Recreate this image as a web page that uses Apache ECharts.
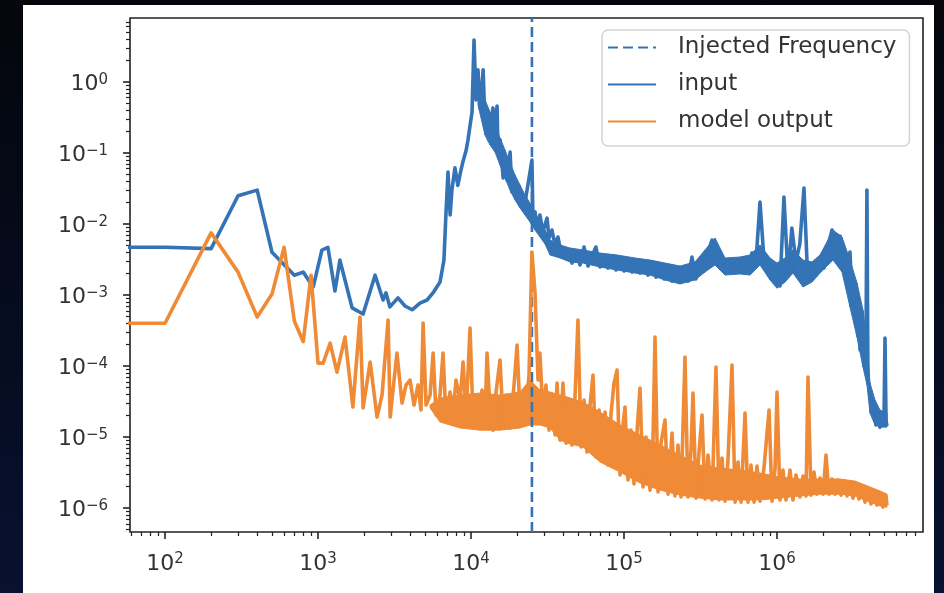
<!DOCTYPE html>
<html lang="en">
<head>
<meta charset="UTF-8">
<title>Spectrum: input vs model output</title>
<script src="https://cdn.jsdelivr.net/npm/echarts@6.0.0/dist/echarts.min.js"></script>
<style>
  html, body { margin: 0; padding: 0; }
  body { width: 944px; height: 593px; overflow: hidden; position: relative;
         background: linear-gradient(#04060b, #071130); }
  #panel { position: absolute; left: 23px; top: 5px; width: 911px; height: 588px; background: #fff; }
  #main { position: absolute; left: 0; top: 0; width: 944px; height: 593px; }
</style>
</head>
<body>
<div id="panel"></div>
<div id="main"></div>
<script>
// values: [frequency Hz, amplitude]
const injectedFreq = 25000;
const xTickExp = [2, 3, 4, 5, 6];
const yTickExp = [-6, -5, -4, -3, -2, -1, 0];
const xRange = [59, 9.0e6];
const yRange = [4.6e-7, 7.96];

const inputPoints = [
  [30,4.7e-3],[100,4.7e-3],[200,4.5e-3],[300,2.5e-2],[400,3.0e-2],[500,4.0e-3],[700,1.9e-3],[800,2.1e-3],
  [930,1.3e-3],[1060,4.3e-3],[1160,4.7e-3],[1290,1.14e-3],[1390,3.1e-3],[1500,1.63e-3],[1670,6.6e-4],
  [1970,5.4e-4],[2360,1.9e-3],[2660,8.5e-4],[2780,1.07e-3],[2950,6.8e-4],[3330,9.1e-4],[3700,7.0e-4],
  [4120,6.2e-4],[4640,7.7e-4],[5160,8.5e-4],[5640,1.07e-3],[6270,1.52e-3],[6650,3.1e-3],[6850,1.34e-2],
  [7070,5.4e-2],[7300,1.34e-2],[7500,3.0e-2],[7850,6.2e-2],[8200,3.5e-2],[8600,5.8e-2],[8850,7.5e-2],
  [9300,0.11],[9550,0.152],[9800,0.225],[10150,0.378],[10460,3.9],[10780,0.558],[11100,1.48],[11450,0.431],
  [11800,0.906],[12000,1.48],[12350,0.225],[12700,0.311],[13100,0.152],[13500,0.248],[13900,0.431],
  [14350,0.211],[14800,0.459],[15000,0.103],[15500,0.152],[15900,0.0796],[16200,0.0445],[16700,0.0796],
  [17200,0.0417],[17700,0.0677],[18000,0.103],[18500,0.0282],[19100,0.0417],[19700,0.0232],[20300,0.0321],
  [20900,0.0198],[21500,0.0256],[22200,0.0157],[22900,0.0248],[24000,0.0459],[25000,0.0796],[25400,0.0121],
  [26200,0.0148],[27000,0.00877],[28200,0.0134],[29500,0.00771],[30400,0.00967],[31400,0.0121],
  [32300,0.00635],[33800,0.00822],[35400,0.00506],[37000,0.00656],[38700,0.00403],
  [40500,3.43e-3],[43100,4.31e-3],[45700,2.82e-3],[48500,3.78e-3],[51600,2.65e-3],[54800,4.74e-3],
  [58200,2.56e-3],[61800,3.54e-3],[65500,4.74e-3],[69600,2.48e-3],[74000,3.43e-3],[78600,2.40e-3],
  [83500,3.32e-3],[88500,2.25e-3],[94200,3.11e-3],[1.0e5,2.18e-3],[1.06e5,3.01e-3],[1.13e5,2.11e-3],
  [1.20e5,2.92e-3],[1.27e5,2.04e-3],[1.35e5,2.82e-3],[1.435e5,1.91e-3],[1.52e5,2.65e-3],[1.62e5,1.79e-3],
  [1.72e5,2.48e-3],[1.83e5,1.68e-3],[1.94e5,2.32e-3],[2.06e5,1.57e-3],[2.19e5,2.18e-3],[2.32e5,1.52e-3],
  [2.47e5,2.11e-3],[2.62e5,1.57e-3],[2.78e5,3.43e-3],[2.95e5,1.68e-3],[3.14e5,2.56e-3],[3.33e5,2.18e-3],
  [3.54e5,4.03e-3],[3.76e5,5.95e-3],[4.0e5,3.66e-3],[4.24e5,3.43e-3],[4.5e5,2.18e-3],[4.78e5,2.92e-3],
  [5.08e5,2.11e-3],[5.39e5,3.01e-3],[5.73e5,2.25e-3],[6.08e5,3.32e-3],[6.46e5,2.48e-3],[6.86e5,3.90e-3],
  [7.29e5,3.01e-3],[7.74e5,2.04e-2],[8.21e5,3.32e-3],[8.72e5,3.11e-3],[9.26e5,1.74e-3],[9.8e5,2.04e-3],
  [1.046e6,1.34e-3],[1.11e6,2.40e-2],[1.18e6,1.85e-3],[1.25e6,8.77e-3],[1.33e6,2.92e-3],[1.41e6,5.23e-3],
  [1.50e6,3.21e-2],[1.59e6,1.57e-3],[1.69e6,2.56e-3],[1.80e6,1.91e-3],[1.91e6,3.11e-3],[2.03e6,2.40e-3],
  [2.15e6,4.90e-3],[2.29e6,8.22e-3],[2.43e6,3.66e-3],[2.58e6,6.77e-3],[2.74e6,4.31e-3],[2.91e6,2.92e-3],
  [3.0e6,4.03e-3],[3.09e6,9.06e-4],[3.18e6,1.38e-3],[3.28e6,3.78e-4],[3.38e6,8.49e-4],[3.49e6,1.68e-4],
  [3.59e6,4.74e-4],[3.70e6,1.21e-4],[3.82e6,2.73e-4],[3.87e6,3.0e-2],[3.93e6,6.77e-5],[4.05e6,3.90e-5],
  [4.17e6,2.25e-5],[4.31e6,2.82e-5],[4.43e6,1.48e-5],[4.57e6,2.04e-5],[4.71e6,1.38e-5],[4.85e6,1.91e-5],
  [5.0e6,1.48e-5],[5.08e6,2.48e-4],[5.16e6,1.74e-5],[5.23e6,1.43e-5]
];

// dense noise floor of the input: [frequency, upper edge, lower edge]
const inputBand = [
  [1.111e4,1.07,0.474],[1.234e4,0.558,0.179],[1.331e4,0.378,0.130],[1.435e4,0.248,0.103],
  [1.547e4,0.163,0.0677],[1.668e4,0.110,0.0445],[1.798e4,0.0723,0.0301],[1.939e4,0.0490,0.0218],
  [2.09e4,0.0354,0.0168],[2.253e4,0.0256,0.0134],[2.429e4,0.0198,0.0107],[2.619e4,0.0143,8.22e-3],
  [2.824e4,0.0107,6.56e-3],[3.045e4,8.22e-3,5.23e-3],[3.283e4,5.95e-3,3.66e-3],[3.817e4,5.06e-3,3.32e-3],
  [4.437e4,4.59e-3,2.92e-3],[5.396e4,4.31e-3,2.82e-3],[6.97e4,3.90e-3,2.48e-3],[9.0e4,3.66e-3,2.25e-3],
  [1.18e5,3.32e-3,2.04e-3],[1.479e5,3.11e-3,1.91e-3],[1.853e5,2.82e-3,1.63e-3],[2.322e5,2.56e-3,1.43e-3],
  [2.91e5,2.92e-3,1.63e-3],[3.384e5,4.31e-3,2.11e-3],[3.933e5,6.35e-3,2.65e-3],[4.573e5,3.32e-3,1.91e-3],
  [5.731e5,3.43e-3,1.98e-3],[6.663e5,3.66e-3,1.91e-3],[7.745e5,5.06e-3,2.65e-3],[9.0e5,3.32e-3,1.63e-3],
  [1.0e6,2.82e-3,1.25e-3],[1.128e6,3.32e-3,1.52e-3],[1.272e6,4.31e-3,2.04e-3],[1.479e6,3.11e-3,1.30e-3],
  [1.693e6,2.92e-3,1.52e-3],[1.91e6,3.66e-3,2.04e-3],[2.154e6,5.95e-3,2.65e-3],[2.322e6,8.22e-3,3.11e-3],
  [2.659e6,6.56e-3,2.11e-3],[3.0e6,3.11e-3,6.77e-4],[3.333e6,1.48e-3,2.56e-4],[3.648e6,6.15e-4,9.67e-5],
  [3.875e6,1.98e-4,5.40e-5],[4.054e6,5.76e-5,2.18e-5],[4.371e6,3.32e-5,1.48e-5],[4.712e6,2.40e-5,1.38e-5],
  [5.236e6,2.18e-5,1.38e-5]
];

const outputPoints = [
  [30,4.0e-4],[100,4.0e-4],[200,7.5e-3],[300,2.1e-3],[400,4.9e-4],[500,1.03e-3],[600,4.7e-3],[700,4.3e-4],
  [800,2.2e-4],[900,1.9e-3],[1000,1.1e-4],[1080,1.1e-4],[1200,2.1e-4],[1330,8.2e-5],[1500,2.56e-4],
  [1690,2.65e-5],[1880,4.9e-4],[1970,2.56e-5],[2190,1.14e-4],[2430,1.91e-5],[2620,3.9e-5],[2870,4.45e-4],
  [2960,1.91e-5],[3140,6.35e-5],[3280,1.52e-4],[3540,3.01e-5],[3760,5.4e-5],[3990,6.35e-5],[4240,2.82e-5],
  [4500,5.4e-5],[4710,2.4e-5],[4860,4.03e-4],[5080,2.82e-5],[5400,3.9e-5],[5650,1.52e-4],[5910,2.04e-5],
  [6270,3.9e-5],[6560,1.52e-4],[6870,1.74e-5],[7290,4.31e-5],[7630,2.25e-5],[7980,6.35e-5],[8480,3.32e-5],
  [8870,1.14e-4],[9280,2.04e-5],[9850,3.43e-4],[10310,1.74e-5],[10780,3.9e-5],[11280,1.48e-5],[11800,4.59e-5],
  [12340,1.74e-5],[12720,1.52e-4],[13310,2.4e-5],[13920,1.25e-5],[14570,4.31e-5],[15470,1.21e-4],
  [16180,1.74e-5],[16930,3.9e-5],[17980,1.34e-5],[19100,5.4e-5],[20000,1.98e-4],[20900,2.04e-5],
  [21860,3.9e-5],[22870,2.4e-5],[23930,7.46e-5],[25000,4.03e-3],[26200,1.07e-3],[27400,6.35e-5],
  [28200,1.52e-4],[29550,2.04e-5],[30900,5.4e-5],[32340,1.25e-5],[33840,3.9e-5],[35400,1.07e-5],
  [36500,5.76e-5],[38170,9.06e-6],[39900,5.76e-5],[41800,8.22e-6],[43700,3.32e-5],[45700,7.71e-6],
  [47800,3.54e-5],[50000,4.45e-4],[52400,7.23e-6],[54800,3.32e-5],[57300,6.15e-6],[60000,2.82e-5],
  [62700,7.46e-5],[65600,5.23e-6],[68700,2.4e-5],[71800,4.74e-6],[75200,2.25e-5],[78600,4.03e-6],
  [82300,2.18e-5],[86000,5.76e-5],[90000,8.77e-5],[94200,2.92e-6],[98500,1.48e-5],[1.015e5,2.65e-5],
  [1.062e5,2.48e-6],[1.111e5,1.25e-5],[1.162e5,2.18e-6],[1.216e5,1.18e-5],[1.272e5,4.9e-5],[1.331e5,1.98e-6],
  [1.392e5,1.0e-5],[1.479e5,1.79e-6],[1.547e5,9.06e-6],[1.594e5,2.56e-4],[1.668e5,1.68e-6],[1.745e5,8.22e-6],
  [1.853e5,1.74e-5],[1.939e5,1.57e-6],[2.059e5,1.14e-5],[2.154e5,1.48e-6],[2.253e5,7.71e-6],[2.357e5,1.43e-6],
  [2.503e5,1.34e-4],[2.619e5,1.43e-6],[2.74e5,6.56e-6],[2.824e5,4.17e-5],[2.955e5,1.38e-6],[3.091e5,6.15e-6],
  [3.234e5,2.04e-5],[3.384e5,1.34e-6],[3.54e5,5.58e-6],[3.76e5,1.3e-6],[3.99e5,9.67e-5],[4.18e5,1.3e-6],
  [4.37e5,5.06e-6],[4.57e5,1.25e-6],[4.78e5,4.74e-6],[5.08e5,1.03e-4],[5.32e5,1.21e-6],[5.56e5,4.45e-6],
  [5.82e5,1.21e-6],[6.18e5,2.18e-5],[6.465e5,1.21e-6],[6.76e5,4.03e-6],[7.08e5,1.21e-6],[7.40e5,3.9e-6],
  [7.745e5,1.25e-6],[8.23e5,3.78e-6],[8.87e5,2.4e-5],[9.28e5,1.25e-6],[9.71e5,3.66e-6],[1.0e6,4.31e-5],
  [1.046e6,1.3e-6],[1.094e6,3.43e-6],[1.145e6,1.3e-6],[1.216e6,3.43e-6],[1.272e6,1.3e-6],[1.331e6,2.92e-6],
  [1.413e6,1.43e-6],[1.479e6,2.82e-6],[1.547e6,1.48e-6],[1.594e6,7.0e-5],[1.668e6,1.52e-6],[1.745e6,3.21e-6],
  [1.825e6,1.57e-6],[1.91e6,2.65e-6],[2.0e6,1.57e-6],[2.09e6,5.58e-6],[2.186e6,1.57e-6],[2.287e6,2.56e-6],
  [2.393e6,1.57e-6],[2.503e6,2.48e-6],[2.619e6,1.52e-6],[2.74e6,2.4e-6],[2.867e6,1.48e-6],[3.0e6,2.25e-6],
  [3.138e6,1.38e-6],[3.283e6,2.11e-6],[3.435e6,1.34e-6],[3.594e6,1.91e-6],[3.76e6,1.21e-6],[3.933e6,1.79e-6],
  [4.115e6,1.14e-6],[4.305e6,1.68e-6],[4.504e6,1.1e-6],[4.712e6,1.57e-6],[4.93e6,1.03e-6],[5.158e6,1.48e-6],
  [5.236e6,1.1e-6]
];

// dense noise floor of the model output: [frequency, upper edge, lower edge]
const outputBand = [
  [5.396e3,2.82e-5,2.56e-5],[6.273e3,3.54e-5,1.63e-5],[8.477e3,3.90e-5,1.34e-5],[1.145e4,4.17e-5,1.25e-5],
  [1.547e4,3.90e-5,1.25e-5],[2.09e4,4.31e-5,1.34e-5],[2.429e4,6.35e-5,1.48e-5],[2.824e4,4.59e-5,1.48e-5],
  [3.283e4,4.31e-5,1.34e-5],[3.817e4,3.90e-5,9.06e-6],[4.241e4,3.66e-5,8.22e-6],[5.396e4,3.11e-5,7.23e-6],
  [6.97e4,2.25e-5,4.45e-6],[9.418e4,1.48e-5,3.21e-6],[1.272e5,1.07e-5,2.25e-6],[1.719e5,7.71e-6,1.79e-6],
  [2.322e5,5.58e-6,1.52e-6],[3.138e5,4.03e-6,1.38e-6],[4.241e5,3.66e-6,1.30e-6],[5.731e5,3.43e-6,1.30e-6],
  [7.745e5,3.11e-6,1.30e-6],[1.046e6,2.73e-6,1.38e-6],[1.413e6,2.56e-6,1.48e-6],[1.91e6,2.56e-6,1.57e-6],
  [2.58e6,2.56e-6,1.57e-6],[3.234e6,2.40e-6,1.48e-6],[4.054e6,1.98e-6,1.21e-6],[4.712e6,1.74e-6,1.07e-6],
  [5.236e6,1.57e-6,1.03e-6]
];

const blue = '#3474b6';
const orange = '#ef8a37';
const textColor = '#333';
const font = 'DejaVu Sans';

// both axes are logarithmic: plot log10 of the values on value axes
const lg = Math.log10;
const toLog = pts => pts.map(p => [lg(p[0]), lg(p[1])]);
const lx = xRange.map(lg);
const ly = yRange.map(lg);

// minor ticks at 2..9 x 10^n inside the range
function minorTicks(lo, hi) {
  const out = [];
  for (let n = Math.floor(lo); n <= Math.ceil(hi); n++) {
    for (let k = 2; k <= 9; k++) {
      const v = n + lg(k);
      if (v > lo && v < hi) out.push(v);
    }
  }
  return out;
}

// filled strip between the upper and lower edge of a noise floor
function bandSeries(band, color) {
  const data = band.map(b => [lg(b[0]), lg(b[1]), lg(b[2])]);
  return {
    type: 'custom', silent: true, clip: true, data: data,
    encode: { x: 0, y: [1, 2] },
    renderItem: (params, api) => {
      const i = params.dataIndex;
      if (i >= data.length - 1) return null;
      const a = data[i], b = data[i + 1];
      return {
        type: 'polygon',
        shape: { points: [api.coord([a[0], a[1]]), api.coord([b[0], b[1]]),
                          api.coord([b[0], b[2]]), api.coord([a[0], a[2]])] },
        style: { fill: color, stroke: color, lineWidth: 1 }
      };
    }
  };
}

const rich = {
  b: { fontSize: 22, lineHeight: 24, color: textColor, fontFamily: font },
  s: { fontSize: 15, lineHeight: 15, verticalAlign: 'top', color: textColor, fontFamily: font }
};
const powLabel = v => {
  const n = Math.round(v);
  return '{b|10}{s|' + (n < 0 ? '\u2212' + (-n) : n) + '}';
};
const tickStyle = { color: '#222', width: 1.6 };
const minorStyle = { color: '#222', width: 1.2 };

const chart = echarts.init(document.getElementById('main'));

const option = {
  animation: false,
  textStyle: { fontFamily: font },
  grid: { left: 130, top: 18, width: 793, height: 514, show: true,
          borderColor: '#222', borderWidth: 1.6, backgroundColor: 'transparent' },
  legend: {
    orient: 'vertical', left: 602, top: 30,
    itemWidth: 48, itemHeight: 22, itemGap: 14,
    padding: [6, 13, 13, 5],
    borderColor: '#d4d4d4', borderWidth: 1.5, borderRadius: 6,
    backgroundColor: 'rgba(255,255,255,0.85)',
    itemStyle: { color: 'rgba(0,0,0,0)', borderWidth: 0 },
    textStyle: { fontSize: 23, color: textColor, fontFamily: font, padding: [0, 0, 0, 17] },
    data: ['Injected Frequency', 'input', 'model output']
  },
  xAxis: [
    { type: 'value', min: lx[0], max: lx[1], position: 'bottom',
      axisLine: { show: false, onZero: false }, splitLine: { show: false },
      axisTick: { length: 7, customValues: xTickExp, lineStyle: tickStyle },
      axisLabel: { customValues: xTickExp, margin: 20, formatter: powLabel, rich: rich } },
    { type: 'value', min: lx[0], max: lx[1], position: 'bottom',
      axisLine: { show: false, onZero: false }, splitLine: { show: false }, axisLabel: { show: false },
      axisTick: { length: 4, customValues: minorTicks(lx[0], lx[1]), lineStyle: minorStyle } }
  ],
  yAxis: [
    { type: 'value', min: ly[0], max: ly[1], position: 'left',
      axisLine: { show: false, onZero: false }, splitLine: { show: false },
      axisTick: { length: 7, customValues: yTickExp, lineStyle: tickStyle },
      axisLabel: { customValues: yTickExp, margin: 22, padding: [5, 0, 0, 0], formatter: powLabel, rich: rich } },
    { type: 'value', min: ly[0], max: ly[1], position: 'left',
      axisLine: { show: false, onZero: false }, splitLine: { show: false }, axisLabel: { show: false },
      axisTick: { length: 4, customValues: minorTicks(ly[0], ly[1]), lineStyle: minorStyle } }
  ],
  series: [
    { name: 'Injected Frequency', type: 'line', symbol: 'none',
      data: [[lg(injectedFreq), ly[0]], [lg(injectedFreq), ly[1]]],
      lineStyle: { color: blue, width: 2.6, type: [10, 5] }, itemStyle: { color: blue } },
    bandSeries(inputBand, blue),
    { name: 'input', type: 'line', symbol: 'none', data: toLog(inputPoints),
      lineStyle: { color: blue, width: 3.6, join: 'round' }, itemStyle: { color: blue } },
    bandSeries(outputBand, orange),
    { name: 'model output', type: 'line', symbol: 'none', data: toLog(outputPoints),
      lineStyle: { color: orange, width: 3.6, join: 'round' }, itemStyle: { color: orange } }
  ]
};

chart.setOption(option);
</script>
</body>
</html>
